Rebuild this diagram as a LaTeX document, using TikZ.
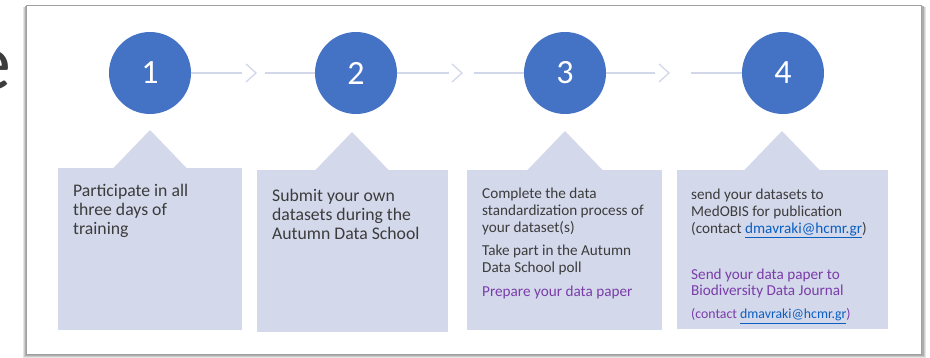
\documentclass[tikz,border=0pt]{standalone}
\usepackage{fontspec}
\setmainfont{Carlito}
\definecolor{stepblue}{HTML}{4472C4}
\definecolor{boxfill}{HTML}{D3D8EB}
\definecolor{conncol}{HTML}{D3D7EA}
\definecolor{txt}{HTML}{3C3C3C}
\definecolor{purp}{HTML}{7A3DA8}
\definecolor{linkblue}{HTML}{0B5FC0}
\definecolor{framegray}{HTML}{A0A0A0}
\newcommand{\lnk}[1]{\textcolor{linkblue}{\underline{#1}}}
\tikzset{
  stepcirc/.style={circle, fill=stepblue, minimum size=82pt, inner sep=0pt, text=white, font=\fontsize{34}{34}\selectfont},
  conn/.style={draw=conncol, line width=1.3pt},
  chev/.style={draw=conncol, line width=1.3pt, line join=miter},
  stepbox/.style={rectangle, fill=boxfill, inner sep=0pt, anchor=north west},
  bigtxt/.style={anchor=base west, inner sep=0pt, align=left, text=txt, font=\fontsize{17.7}{19.3}\selectfont},
  smalltxt/.style={anchor=base west, inner sep=0pt, align=left, text=txt, font=\fontsize{15.2}{17}\selectfont},
}
\begin{document}
\begin{tikzpicture}[x=1pt,y=-1pt]
\useasboundingbox (0,0) rectangle (930,358);
\clip (0,0) rectangle (930,358);
% cut-off slide letter
\node[anchor=base east, inner sep=0pt, text=txt, font=\fontsize{80}{80}\selectfont] (elet) at (12,90) {e};
% frame with soft shadow
\fill[black!10] (23,7) rectangle (926,358);
\fill[black!20] (24,7) rectangle (925,357);
\fill[black!32] (25,6) rectangle (923.5,356);
\draw[framegray, fill=white, line width=0.8pt] (26,5) rectangle (921,354);
% step circles
\node[stepcirc] (c1) at (150,73) {1};
\node[stepcirc] (c2) at (356,73) {2};
\node[stepcirc] (c3) at (565,73) {3};
\node[stepcirc] (c4) at (783,73) {4};
% connectors
\coordinate (a1) at (242,73); \coordinate (b1) at (265,73);
\coordinate (a2) at (449,73); \coordinate (b2) at (474,73);
\coordinate (a3) at (655,73); \coordinate (b3) at (691,73);
\draw[conn] (c1.east) -- (a1);
\draw[chev] (246,64) -- (256,73) -- (246,82);
\draw[conn] (b1) -- (c2.west);
\draw[conn] (c2.east) -- (a2);
\draw[chev] (452,64) -- (462,73) -- (452,82);
\draw[conn] (b2) -- (c3.west);
\draw[conn] (c3.east) -- (a3);
\draw[chev] (659,64) -- (669,73) -- (659,82);
\draw[conn] (b3) -- (c4.west);
% boxes with tabs
\node[stepbox, minimum width=184pt, minimum height=162pt] (box1) at (58,168) {};
\fill[boxfill] (113,168.5) -- (150,130) -- (187,168.5) -- cycle;
\node[stepbox, minimum width=191pt, minimum height=162pt] (box2) at (257,170) {};
\fill[boxfill] (315,170.5) -- (352,132) -- (389,170.5) -- cycle;
\node[stepbox, minimum width=195pt, minimum height=160pt] (box3) at (467,170) {};
\fill[boxfill] (527,170.5) -- (565,131) -- (603,170.5) -- cycle;
\node[stepbox, minimum width=211pt, minimum height=159pt] (box4) at (677,170) {};
\fill[boxfill] (744,170.5) -- (782,131) -- (820,170.5) -- cycle;
% texts (anchored at the baseline of their last line)
\node[bigtxt] (t1) at (73,235) {Participate in all\\three days of\\training};
\node[bigtxt] (t2) at (272,240) {Submit your own\\datasets during the\\Autumn Data School};
\node[smalltxt] (t3) at (482,296.5) {Complete the data\\standardization process of\\your dataset(s)\\[6.5pt]Take part in the Autumn\\Data School poll\\[6.5pt]\textcolor{purp}{Prepare your data paper}};
\node[smalltxt] (t4) at (691,233.5) {send your datasets to\\MedOBIS for publication\\(contact \lnk{dmavraki@hcmr.gr})};
\node[smalltxt, text=purp] (t5) at (691,296) {Send your data paper to\\Biodiversity Data Journal};
\node[anchor=base west, inner sep=0pt, text=purp, font=\fontsize{13.8}{16}\selectfont] (t6) at (691,319) {(contact \lnk{dmavraki@hcmr.gr})};
\end{tikzpicture}
\end{document}
